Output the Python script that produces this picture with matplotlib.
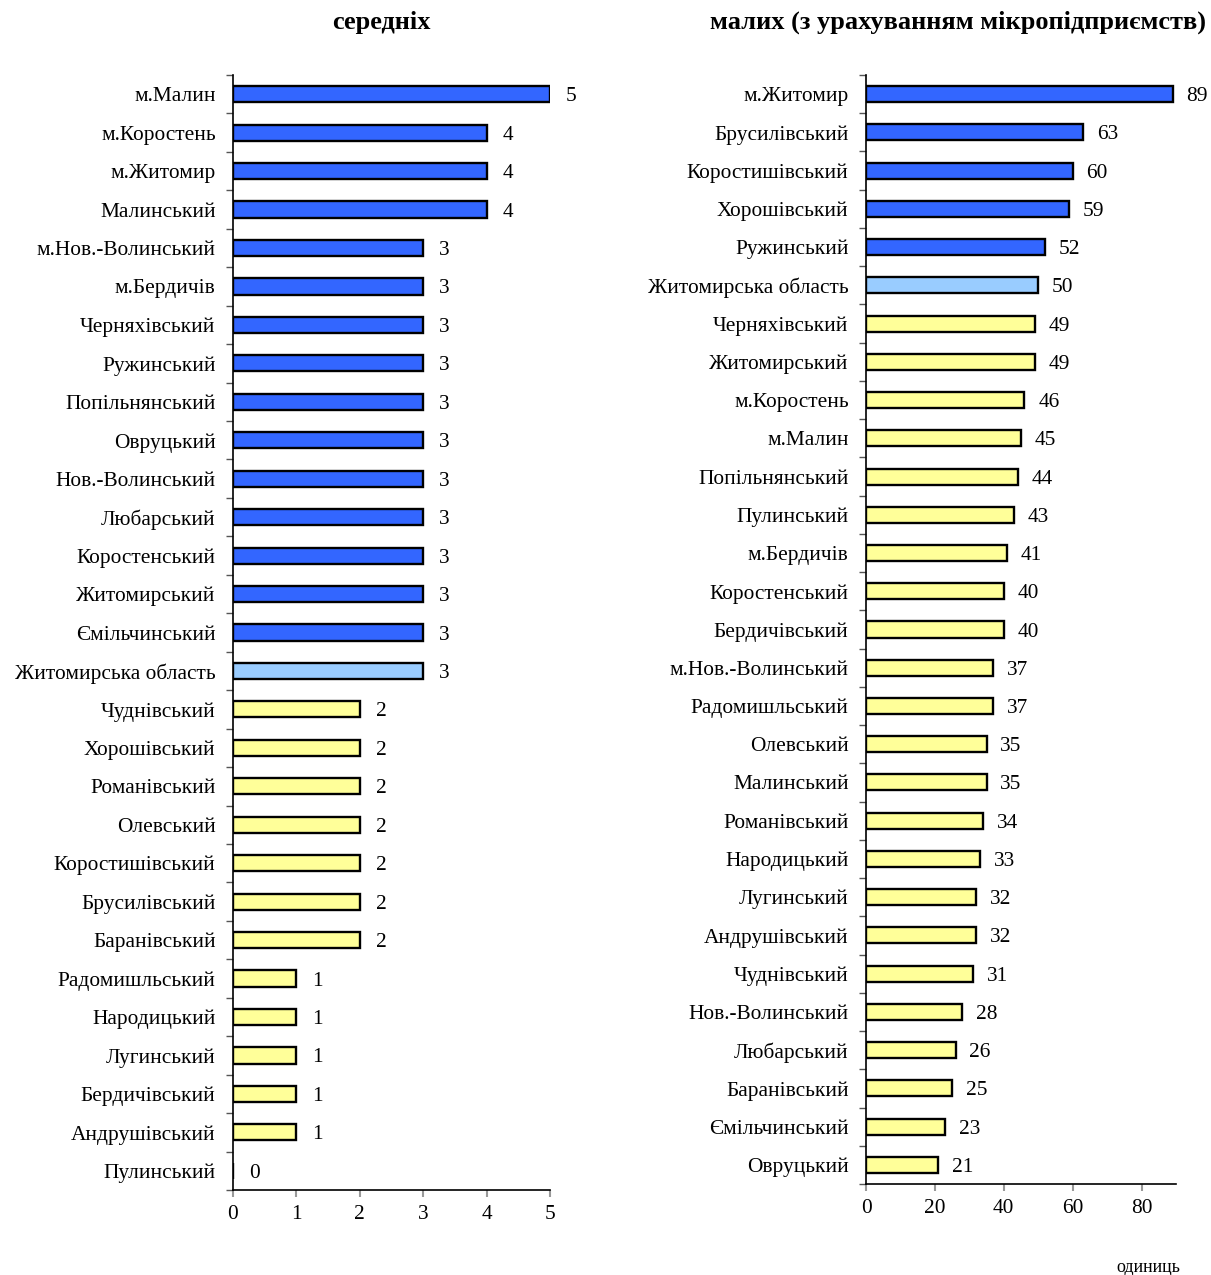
import numpy as np
import matplotlib.pyplot as plt

plt.rcParams['font.family'] = ['Liberation Serif', 'DejaVu Serif']

# середніх підприємств
mid_names = ['м.Малин', 'м.Коростень', 'м.Житомир', 'Малинський', 'м.Нов.-Волинський',
             'м.Бердичів', 'Черняхівський', 'Ружинський', 'Попільнянський', 'Овруцький',
             'Нов.-Волинський', 'Любарський', 'Коростенський', 'Житомирський', 'Ємільчинський',
             'Житомирська область', 'Чуднівський', 'Хорошівський', 'Романівський', 'Олевський',
             'Коростишівський', 'Брусилівський', 'Баранівський', 'Радомишльський', 'Народицький',
             'Лугинський', 'Бердичівський', 'Андрушівський', 'Пулинський']
mid_vals = [5, 4, 4, 4, 3, 3, 3, 3, 3, 3, 3, 3, 3, 3, 3, 3, 2, 2, 2, 2, 2, 2, 2, 1, 1, 1, 1, 1, 0]

# малих (з урахуванням мікропідприємств)
small_names = ['м.Житомир', 'Брусилівський', 'Коростишівський', 'Хорошівський', 'Ружинський',
               'Житомирська область', 'Черняхівський', 'Житомирський', 'м.Коростень', 'м.Малин',
               'Попільнянський', 'Пулинський', 'м.Бердичів', 'Коростенський', 'Бердичівський',
               'м.Нов.-Волинський', 'Радомишльський', 'Олевський', 'Малинський', 'Романівський',
               'Народицький', 'Лугинський', 'Андрушівський', 'Чуднівський', 'Нов.-Волинський',
               'Любарський', 'Баранівський', 'Ємільчинський', 'Овруцький']
small_vals = [89, 63, 60, 59, 52, 50, 49, 49, 46, 45, 44, 43, 41, 40, 40, 37, 37, 35, 35, 34,
              33, 32, 32, 31, 28, 26, 25, 23, 21]

region = 'Житомирська область'
BLUE, LIGHT, YELLOW = '#3366FF', '#99CCFF', '#FFFF99'
FS = 15.4


def colors_for(names):
    # above the region row -> blue, region itself -> light blue, below -> yellow
    k = names.index(region)
    return [BLUE] * k + [LIGHT] + [YELLOW] * (len(names) - k - 1)


def draw(ax, names, vals, xmax, xticks, offset):
    y = np.arange(len(names))
    ax.barh(y, vals, height=0.42, color=colors_for(names),
            edgecolor='black', linewidth=1.7, zorder=3)
    for yi, v in zip(y, vals):
        ax.text(v + offset, yi, str(v), va='center_baseline', ha='left', fontsize=FS)
    ax.set_ylim(len(names) - 0.5, -0.5)
    ax.set_xlim(0, xmax)
    ax.set_yticks(y)
    ax.set_yticklabels(names, fontsize=FS, va='center_baseline')
    ax.set_yticks(np.arange(len(names) + 1) - 0.5, minor=True)
    ax.tick_params(axis='y', which='major', length=0, pad=12.5)
    ax.tick_params(axis='y', which='minor', length=5, width=1, color='#555555')
    ax.set_xticks(xticks)
    ax.tick_params(axis='x', labelsize=FS, length=5, width=1.5, color='#999999', pad=6)
    ax.spines['top'].set_visible(False)
    ax.spines['right'].set_visible(False)
    ax.spines['left'].set_linewidth(1.2)
    ax.spines['bottom'].set_linewidth(1.2)


fig = plt.figure(figsize=(12.11, 12.75), dpi=100)
ax1 = fig.add_axes([233 / 1211, 1 - 1190 / 1275, 317 / 1211, 1115 / 1275])
ax2 = fig.add_axes([866 / 1211, 1 - 1184 / 1275, 310 / 1211, 1109 / 1275])

draw(ax1, mid_names, mid_vals, 5, [0, 1, 2, 3, 4, 5], 0.25)
draw(ax2, small_names, small_vals, 90, [0, 20, 40, 60, 80], 4)

fig.text(381 / 1211, 1 - 22 / 1275, 'середніх', ha='center', va='center',
         fontsize=19, fontweight='bold')
fig.text(958 / 1211, 1 - 22 / 1275, 'малих (з урахуванням мікропідприємств)',
         ha='center', va='center', fontsize=19, fontweight='bold')
fig.text(1180 / 1211, 1 - 1267 / 1275, 'одиниць', ha='right', va='center', fontsize=13)

fig.savefig('out.png', dpi=100)
